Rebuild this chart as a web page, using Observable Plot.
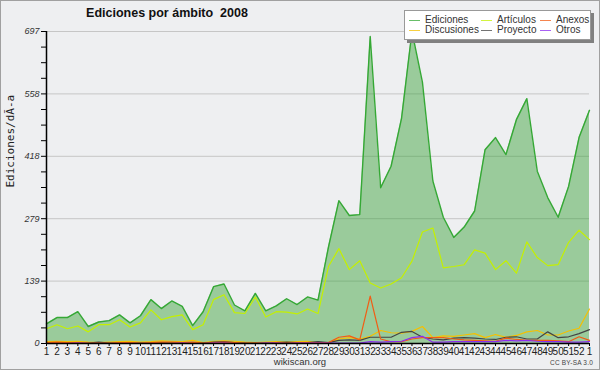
<!DOCTYPE html>
<html>
<head>
<meta charset="utf-8">
<script src="https://cdn.jsdelivr.net/npm/d3@7"></script>
<script src="https://cdn.jsdelivr.net/npm/@observablehq/plot@0.6"></script>
<style>
  html, body { margin: 0; padding: 0; background: #eeeff1; }
  #wrap { position: relative; width: 600px; height: 370px; background: #eeeff1; overflow: hidden; font-family: "Liberation Sans", sans-serif; }
  #wrap svg { position: absolute; left: 0; top: 0; }
  #border { position: absolute; left: 0; top: 0; width: 598px; height: 368px; border: 1px solid #a0a0a0; pointer-events: none; }
  #title { position: absolute; left: 0; width: 334px; top: 6px; text-align: center; font-weight: bold; font-size: 12.5px; color: #111; white-space: pre; }
  #legend { position: absolute; left: 404px; top: 10px; width: 185px; height: 28px; background: #fff; border: 1px solid #999; box-shadow: 3px 3px 0 #808080; }
  .li { position: absolute; font-size: 10px; color: #333; line-height: 11px; white-space: nowrap; }
  .sw { position: absolute; height: 0; border-top: 1px solid; width: 11px; opacity: 0.75; }
  #site { position: absolute; left: 0; width: 600px; top: 356px; text-align: center; font-size: 9.5px; color: #333; }
  #cc { position: absolute; left: 550px; top: 359px; font-size: 6.5px; color: #444; letter-spacing: 0.2px; }
</style>
</head>
<body>
<div id="wrap"></div>
<script>
// Week tick labels (x axis)
const weekLabels = ["1","2","3","4","5","6","7","8","9","10","11","12","13","14","15","16","17","18","19","20","21","22","23","24","25","26","27","28","29","30","31","32","33","34","35","36","37","38","39","40","41","42","43","44","45","46","47","48","49","50","51","52","1"];

// Y tick labels
const yMajorTicks = [0, 139.4, 278.8, 418.2, 557.6, 697];
const yMajorLabels = ["0", "139", "279", "418", "558", "697"];

// Series values (edits per day)
const ediciones = [44,58,58,71,38,48,51,64,46,62,98,78,95,83,
  40,71,127,133,86,73,112,73,84,100,87,104,97,215,
  319,286,288,686,348,396,503,697,584,363,282,237,260,296,433,460,422,500,547,385,326,282,351,460,521];
const articulos = [33,42,33,39,26,42,42,53,37,46,75,53,60,64,
  31,42,98,109,69,67,104,59,71,70,66,77,67,172,
  212,165,185,135,124,133,147,184,249,258,169,172,176,209,202,165,185,157,227,192,174,176,226,253,232];
const discusiones = [4,5,4,5,3,2,3,4,5,3,4,6,5,4,7,2,5,6,5,3,2,3,4,3,4,5,
  2,2,10,13,10,16,29,24,23,27,38,13,17,
  16,19,22,13,20,14,18,26,29,19,19,28,34,77];
const anexos = [2,3,2,2,1,1,1,2,2,1,2,3,3,2,3,1,2,3,2,1,1,1,2,1,2,2,
  2,2,14,17,8,106,10,4,4,10,13,13,13,
  10,8,7,6,5,12,9,7,7,7,6,4,15,7];
const proyecto = [1,1,2,1,1,3,1,1,1,1,1,2,1,1,2,1,3,4,2,1,1,1,2,3,2,2,
  4,2,7,8,7,14,14,14,25,27,14,10,8,
  12,13,12,10,9,14,15,10,10,26,13,15,22,31];
const otros = [0,0,0,1,0,0,0,0,0,0,0,0,0,1,0,0,1,1,0,0,0,1,1,0,1,1,
  1,1,1,1,1,4,3,4,5,13,16,3,3,
  4,4,4,4,4,7,6,7,5,4,4,3,3,4];

const seriesNames = ["Ediciones", "Artículos", "Anexos", "Discusiones", "Proyecto", "Otros"];
const seriesColors = ["#35a835", "#c4f000", "#f25c14", "#f5c000", "#444444", "#8c2cf0"];
const seriesValues = [ediciones, articulos, anexos, discusiones, proyecto, otros];

const toRows = (arr) => arr.map((v, i) => ({i, v}));
const idx = weekLabels.map((_, i) => i);

// minor + major ticks on y
const yAllTicks = d3.range(0, 21).map(k => k * 697 / 20);
const fmtY = (t) => {
  const j = yMajorTicks.findIndex(m => Math.abs(m - t) < 1e-6);
  return j >= 0 ? yMajorLabels[j] : "";
};

const drawOrder = [0, 1, 3, 4, 2, 5];

const chart = Plot.plot({
  width: 600,
  height: 370,
  marginLeft: 46,
  marginRight: 11,
  marginTop: 31,
  marginBottom: 27,
  style: {background: "transparent", fontFamily: "Liberation Sans, sans-serif", overflow: "visible"},
  x: {type: "linear", domain: [0, 52]},
  y: {domain: [0, 697]},
  marks: [
    Plot.gridY(yMajorTicks.slice(1), {stroke: "#c6c6c6", strokeOpacity: 1, strokeWidth: 1}),
    Plot.areaY(toRows(ediciones), {x: "i", y: "v", fill: "rgb(51,160,51)", fillOpacity: 0.45}),
    ...drawOrder.map(k => Plot.line(toRows(seriesValues[k]), {x: "i", y: "v", stroke: seriesColors[k], strokeWidth: k === 0 ? 1.4 : 1.2})),
    Plot.axisY(yAllTicks, {tickSize: 5, tickFormat: fmtY, fontSize: 9, fontStyle: "italic", fill: "#333", tickPadding: 2, label: null}),
    Plot.axisX(idx, {tickSize: 3, tickFormat: i => weekLabels[i], fontSize: 10, fill: "#222", tickPadding: 1, label: null}),
    Plot.ruleX([0], {stroke: "#000", strokeWidth: 1.5}),
    Plot.ruleY([0], {stroke: "#000", strokeWidth: 1.5}),
    Plot.text(["Ediciones/dÃ-a"], {frameAnchor: "left", rotate: -90, dx: -36, fontSize: 11, fill: "#222", fontFamily: "DejaVu Sans Mono"})
  ]
});

const wrap = document.getElementById("wrap");
wrap.appendChild(chart);

const title = document.createElement("div");
title.id = "title";
title.textContent = "Ediciones por ámbito  2008";
wrap.appendChild(title);

const legend = document.createElement("div");
legend.id = "legend";
const cols = [4, 76, 135];
const rows = [3, 13];
seriesNames.forEach((name, k) => {
  const c = k % 3, r = Math.floor(k / 3);
  const sw = document.createElement("div");
  sw.className = "sw";
  sw.style.left = cols[c] + "px";
  sw.style.top = (rows[r] + 6) + "px";
  sw.style.borderTopColor = seriesColors[k];
  legend.appendChild(sw);
  const t = document.createElement("div");
  t.className = "li";
  t.style.left = (cols[c] + 16) + "px";
  t.style.top = rows[r] + "px";
  t.textContent = name;
  legend.appendChild(t);
});
wrap.appendChild(legend);

const site = document.createElement("div");
site.id = "site";
site.textContent = "wikiscan.org";
wrap.appendChild(site);

const cc = document.createElement("div");
cc.id = "cc";
cc.textContent = "CC BY-SA 3.0";
wrap.appendChild(cc);

const border = document.createElement("div");
border.id = "border";
wrap.appendChild(border);
</script>
</body>
</html>
